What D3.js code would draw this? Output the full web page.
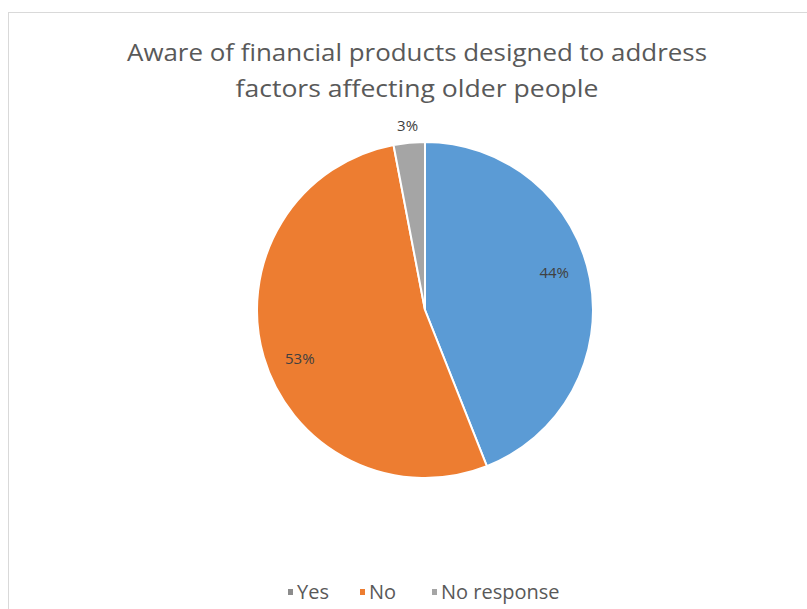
<!DOCTYPE html>
<html>
<head>
	<title> pie chart </title>
	<script src="https://d3js.org/d3.v7.min.js"></script>
	<style>
		body { margin: 0; background: #fff; }
		text { font-family: "Open Sans", sans-serif; }
	</style>
</head>
<body>
	<svg width="807" height="609"></svg>
	<script type="text/javascript">
		let categories = ["Yes", "No", "No response"];
		let values = [44, 53, 3];
		let labels = ["44%", "53%", "3%"];
		let sliceColors = ["#5B9BD5", "#ED7D31", "#A5A5A5"];
		let legendColors = ["#8c8c8c", "#ED7D31", "#A5A5A5"];
		let titleLines = ["Aware of financial products designed to address", "factors affecting older people"];

		let svg = d3.select("svg");

		// chart frame
		svg.append("rect").attr("x", 8.5).attr("y", 12.5).attr("width", 820).attr("height", 620)
			.attr("fill", "#fff").attr("stroke", "#d9d9d9");

		let titleWidths = [580, 363];
		svg.selectAll(".title").data(titleLines).enter().append("text")
			.attr("class", "title")
			.attr("x", 417).attr("y", (d, i) => 61 + i * 36)
			.attr("text-anchor", "middle")
			.attr("fill", "#595959")
			.attr("textLength", (d, i) => titleWidths[i])
			.attr("lengthAdjust", "spacingAndGlyphs")
			.style("font-size", "24px")
			.text(d => d);

		let cx = 425, cy = 310, r = 168;
		let g = svg.append("g").attr("transform", "translate(" + cx + "," + cy + ")");
		let pie = d3.pie().sort(null);
		let arc = d3.arc().innerRadius(0).outerRadius(r);
		let arcs = pie(values);

		g.selectAll("path").data(arcs).enter().append("path")
			.attr("d", arc)
			.attr("fill", (d, i) => sliceColors[i])
			.attr("stroke", "#fff")
			.attr("stroke-width", 2);

		let inner = d3.arc().innerRadius(r * 0.8).outerRadius(r * 0.8);
		let outer = d3.arc().innerRadius(r * 1.1).outerRadius(r * 1.1);
		function labelPos(d, i) {
			if (i == 2) return outer.centroid(d);
			let shift = 0.09;
			return inner.centroid({startAngle: d.startAngle - shift, endAngle: d.endAngle - shift});
		}
		g.selectAll(".lbl").data(arcs).enter().append("text")
			.attr("class", "lbl")
			.attr("transform", (d, i) => "translate(" + labelPos(d, i) + ")")
			.attr("text-anchor", "middle")
			.attr("dy", "0.35em")
			.attr("fill", "#404040")
			.style("font-size", "15px")
			.text((d, i) => labels[i]);

		// legend
		let legend = svg.append("g").attr("transform", "translate(0,592)");
		let lx = [288, 360, 432];
		categories.forEach(function(c, i) {
			legend.append("rect").attr("x", lx[i]).attr("y", -3).attr("width", 5).attr("height", 6)
				.attr("fill", legendColors[i]);
			legend.append("text").attr("x", lx[i] + 9).attr("y", 0).attr("dy", "0.35em")
				.attr("fill", "#595959").style("font-size", "20px")
				.text(c);
		});
	</script>
</body>
</html>
